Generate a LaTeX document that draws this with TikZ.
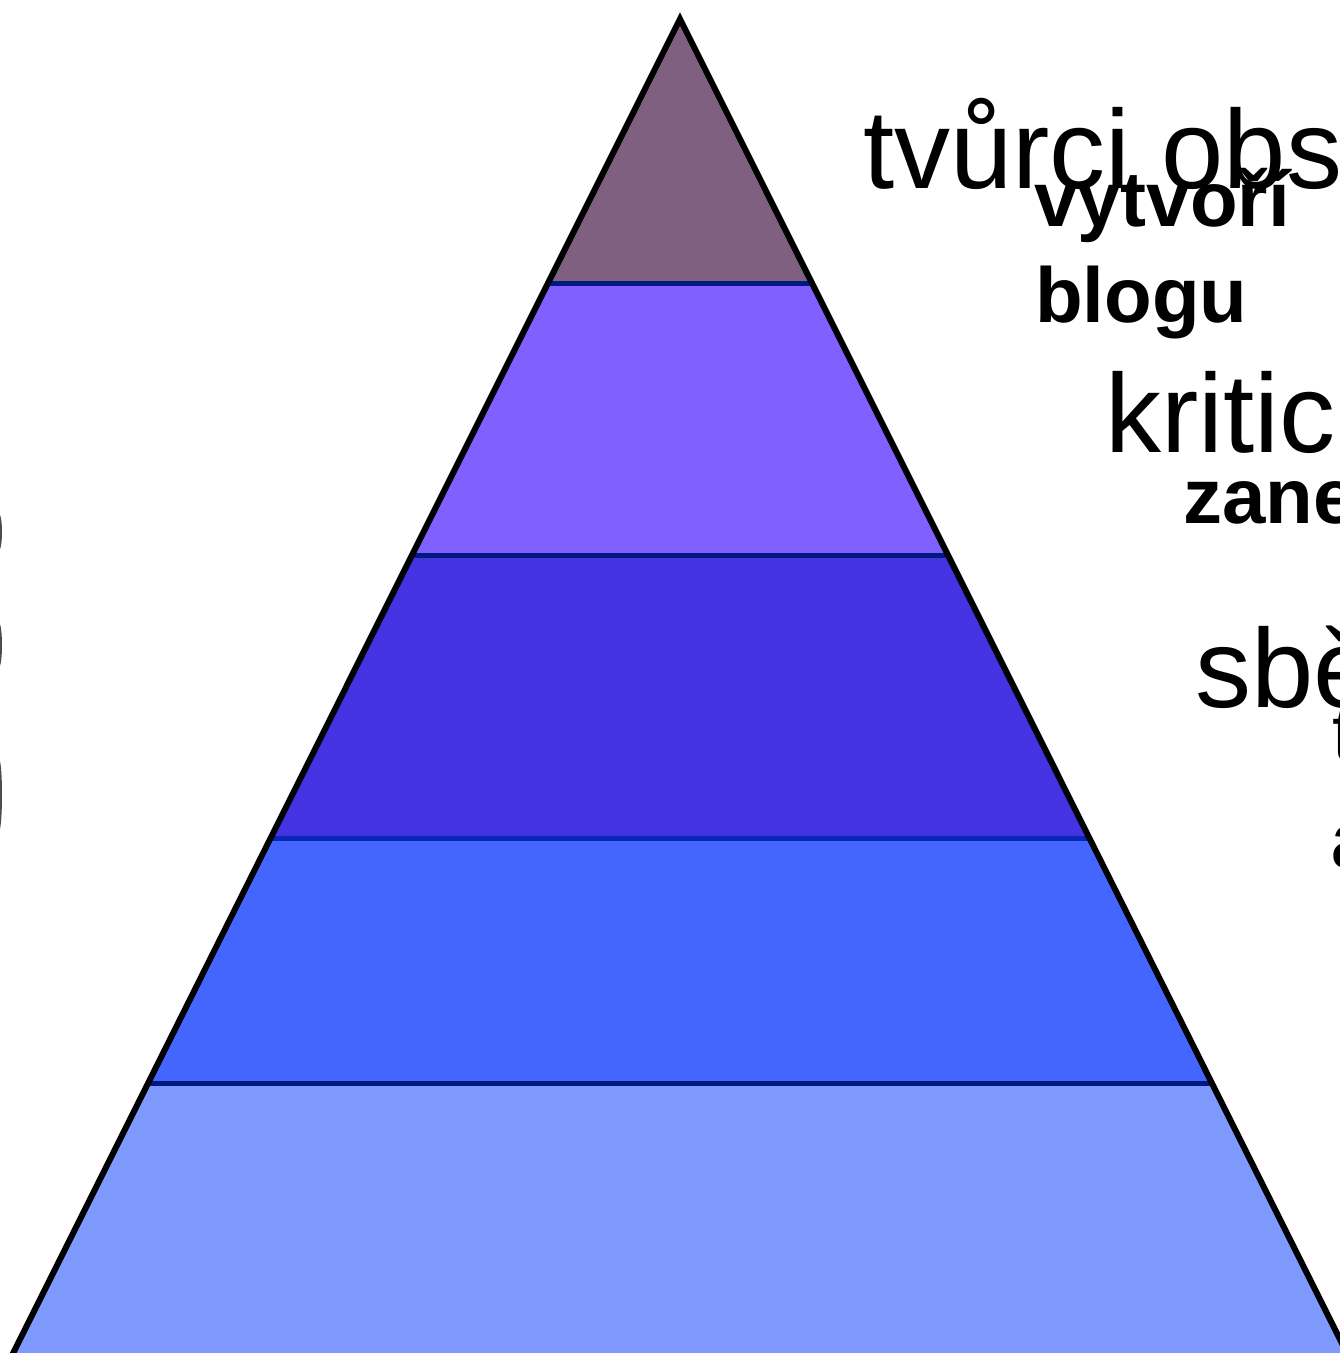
\documentclass[tikz,border=0pt]{standalone}
\usepackage{fontspec}
\setmainfont{Liberation Sans}
\usetikzlibrary{calc}
\definecolor{cTop}{HTML}{806080}
\definecolor{cB2}{HTML}{8060FF}
\definecolor{cB3}{HTML}{4433E0}
\definecolor{cB4}{HTML}{4466FF}
\definecolor{cB5}{HTML}{8099FF}
\definecolor{cSep}{HTML}{001A80}
\definecolor{cSepB}{HTML}{0A26B8}
\tikzset{
  band/.style={draw=none},
  sepline/.style={draw=cSep, line width=5pt},
  outline/.style={draw=black, line width=6pt, line join=miter},
  tx/.style={inner sep=0pt, outer sep=0pt, anchor=base west, text=black},
  big/.style={tx, font=\fontsize{112}{134}\selectfont},
  mid/.style={tx, font=\fontsize{78}{94}\selectfont},
  midb/.style={tx, font=\fontsize{78}{94}\selectfont\bfseries},
  smudge/.style={fill=black, opacity=0.7, draw=none}
}
\begin{document}
\begin{tikzpicture}[x=1pt,y=-1pt]
\useasboundingbox (0,0) rectangle (1340,1353);
\clip (0,0) rectangle (1340,1353);
\fill[white] (0,0) rectangle (1340,1353);
% pyramid geometry
\coordinate (A) at (680,19);
\coordinate (L1) at (547.5,283);  \coordinate (R1) at (812.5,283);
\coordinate (L2) at (410.9,555);  \coordinate (R2) at (949.1,555);
\coordinate (L3) at (268.9,838);  \coordinate (R3) at (1091.1,838);
\coordinate (L4) at (145.9,1083); \coordinate (R4) at (1214.1,1083);
\coordinate (BL) at (-20.3,1420); \coordinate (BR) at (1380.3,1420);
% bands
\fill[band, cTop] (A) -- (R1) -- (L1) -- cycle;
\fill[band, cB2] (L1) -- (R1) -- (R2) -- (L2) -- cycle;
\fill[band, cB3] (L2) -- (R2) -- (R3) -- (L3) -- cycle;
\fill[band, cB4] (L3) -- (R3) -- (R4) -- (L4) -- cycle;
\fill[band, cB5] (L4) -- (R4) -- (BR) -- (BL) -- cycle;
% separators
\draw[sepline] (L1) -- (R1);
\draw[sepline] (L2) -- (R2);
\draw[sepline, draw=cSepB] (L3) -- (R3);
\draw[sepline] (L4) -- (R4);
% outline
\draw[outline] (BL) -- (A) -- (BR);
% left-edge fragments
\fill[smudge] (-1,532) ellipse [x radius=3, y radius=18];
\fill[smudge] (-1,645) ellipse [x radius=3, y radius=22];
\fill[smudge] (-1,795) ellipse [x radius=3, y radius=36];
% labels
\node[big] (t1) at (863,188) {tvůrci obs};
\node[midb] (t1a) at (1034,226) {vytvoří};
\node[midb] (t1b) at (1035,322) {blogu};
\node[big] (t2) at (1105,452) {kritic};
\node[midb] (t2a) at (1183,523) {zane};
\node[big] (t3) at (1195,707) {sbě};
\node[mid] (t3a) at (1332,760) {t};
\node[mid] (t3b) at (1330,867) {a};
\end{tikzpicture}
\end{document}
